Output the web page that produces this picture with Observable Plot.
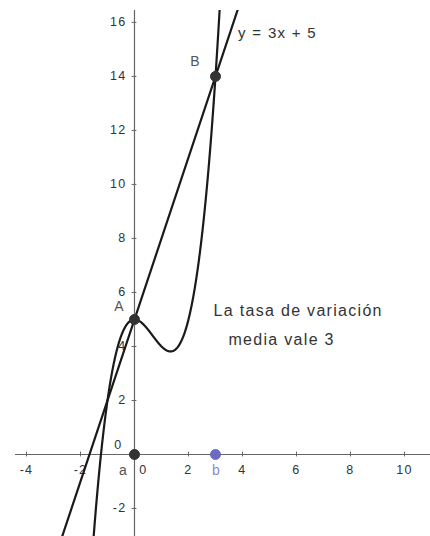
<!DOCTYPE html>
<html>
<head>
<meta charset="utf-8">
<script src="https://cdn.jsdelivr.net/npm/d3@7"></script>
<script src="https://cdn.jsdelivr.net/npm/@observablehq/plot@0.6"></script>
<style>
  body { margin: 0; background: #fff; }
  #chart { width: 430px; height: 536px; }
  svg { display: block; }
</style>
</head>
<body>
<div id="chart"></div>
<script>
// Function coefficients
const lineCoefs = [3, 5];            // y = 3x + 5
const cubicCoefs = [1, -2, 0, 5];    // y = x^3 - 2x^2 + 5 (through A and B)
// Points
const pointNames = ["A", "B", "a", "b"];
const pointX = [0, 3, 0, 3];
const pointY = [5, 14, 0, 0];
const pointColors = ["#333333", "#333333", "#333333", "#6b6bc4"];
// Tick labels
const xTicks = [-4, -2, 0, 2, 4, 6, 8, 10];
const yTicks = [-2, 0, 2, 4, 6, 8, 10, 12, 14, 16];
// Texts
const lineLabel = "y = 3x + 5";
const noteLines = ["La tasa de variación", "media vale 3"];

const xDomain = [-4.407, 10.963];
const yDomain = [-3.037, 16.44];

const samples = d3.range(-3, 4, 0.01);
const lineData = [xDomain[0], xDomain[1]].map(x => ({x, y: lineCoefs[0] * x + lineCoefs[1]}));
const cubicData = samples.map(x => ({x, y: ((cubicCoefs[0] * x + cubicCoefs[1]) * x + cubicCoefs[2]) * x + cubicCoefs[3]}));
const points = pointNames.map((n, i) => ({name: n, x: pointX[i], y: pointY[i], color: pointColors[i]}));
const xt = xTicks.filter(d => d !== 0);
const yt = yTicks.filter(d => d !== 0);

const font = "Liberation Sans, Arial, sans-serif";
const chart = Plot.plot({
  width: 430,
  height: 536,
  marginLeft: 15,
  marginRight: 0,
  marginTop: 10,
  marginBottom: 0,
  x: {domain: xDomain, axis: null},
  y: {domain: yDomain, axis: null},
  style: {fontFamily: font, background: "#fff", letterSpacing: "1.3px"},
  marks: [
    // axes
    Plot.ruleY([0], {stroke: "#666", strokeWidth: 1.2}),
    Plot.ruleX([0], {stroke: "#666", strokeWidth: 1.2}),
    Plot.ruleX(xt, {x: d => d, y1: -0.09, y2: 0.09, stroke: "#666", strokeWidth: 1}),
    Plot.ruleY(yt, {y: d => d, x1: -0.09, x2: 0.09, stroke: "#666", strokeWidth: 1}),
    Plot.text(xt, {x: d => d, y: 0, text: d => String(d), dy: 16, fontSize: 12.5, fill: "#333", textAnchor: "middle"}),
    Plot.text(yt, {x: 0, y: d => d, text: d => String(d), dx: -8, fontSize: 12.5, fill: "#333", textAnchor: "end"}),
    // origin labels
    Plot.text(["0"], {x: 0, y: 0, text: d => d, dx: 9, dy: 16, fontSize: 12.5, fill: "#333"}),
    Plot.text(["0"], {x: 0, y: 0, text: d => d, dx: -16, dy: -9, fontSize: 12.5, fill: "#333"}),
    // curves
    Plot.line(lineData, {x: "x", y: "y", stroke: "#1a1a1a", strokeWidth: 2.2, clip: true}),
    Plot.line(cubicData, {x: "x", y: "y", stroke: "#1a1a1a", strokeWidth: 2.2, clip: true}),
    // points
    Plot.dot(points, {x: "x", y: "y", r: 5, fill: "color", stroke: "color", strokeWidth: 1}),
    Plot.text(points.filter(p => p.name === "A"), {x: "x", y: "y", text: "name", dx: -15, dy: -13, fontSize: 14, fill: "#555"}),
    Plot.text(points.filter(p => p.name === "B"), {x: "x", y: "y", text: "name", dx: -20, dy: -15, fontSize: 14, fill: "#555"}),
    Plot.text(points.filter(p => p.name === "a"), {x: "x", y: "y", text: "name", dx: -11, dy: 16, fontSize: 14, fill: "#555"}),
    Plot.text(points.filter(p => p.name === "b"), {x: "x", y: "y", text: "name", dx: 1, dy: 16, fontSize: 14, fill: "#8a8ad0"}),
    // annotations
    Plot.text([lineLabel], {x: 3.8, y: 15.6, text: d => d, textAnchor: "start", dx: 1, fontSize: 15, fill: "#333"}),
    Plot.text([noteLines[0]], {x: 2.93, y: 5.3, text: d => d, textAnchor: "start", fontSize: 16, fill: "#333"}),
    Plot.text([noteLines[1]], {x: 3.48, y: 4.25, text: d => d, textAnchor: "start", fontSize: 16, fill: "#333"})
  ]
});
document.getElementById("chart").appendChild(chart);
</script>
</body>
</html>
